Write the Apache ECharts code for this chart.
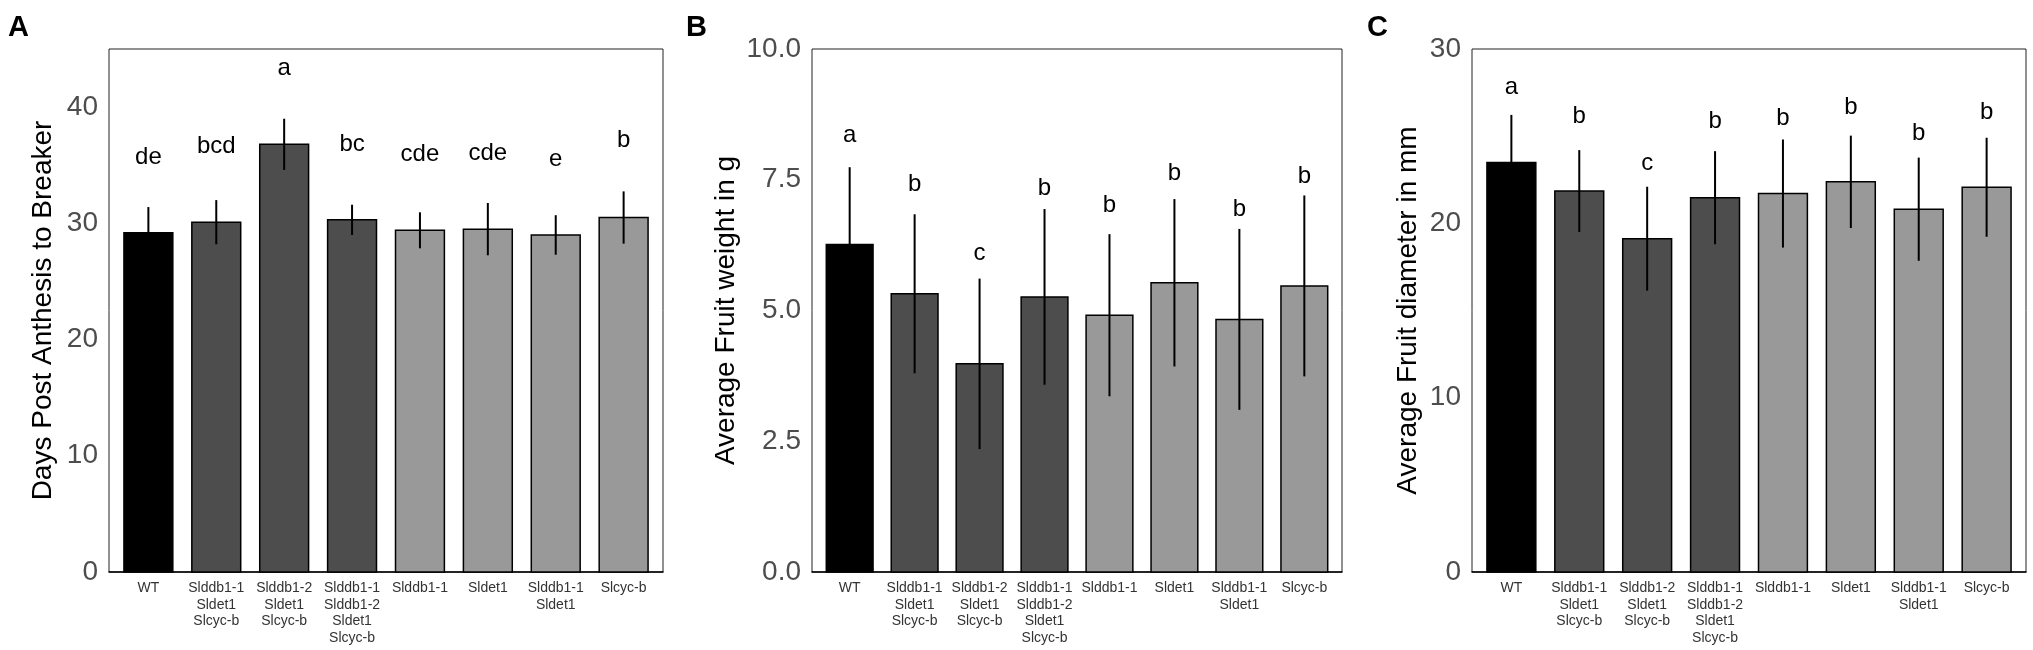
<!DOCTYPE html>
<html>
<head>
    <meta charset="utf-8">
    <title>Fruit traits</title>
    <script src="https://cdn.jsdelivr.net/npm/echarts@6.0.0/dist/echarts.min.js"></script>
    <style>
        body { margin: 0; background: #fff; }
    </style>
</head>
<body>
    <div id="main" style="width: 2033px;height:650px;"></div>
    <script type="text/javascript">
        var chartDom = document.getElementById('main');
        var myChart = echarts.init(chartDom);
        var option;

        // genotypes, same order in all three panels
        var categories = [
            'WT',
            'Slddb1-1\nSldet1\nSlcyc-b',
            'Slddb1-2\nSldet1\nSlcyc-b',
            'Slddb1-1\nSlddb1-2\nSldet1\nSlcyc-b',
            'Slddb1-1',
            'Sldet1',
            'Slddb1-1\nSldet1',
            'Slcyc-b'
        ];
        var barColors = ['#000000', '#4d4d4d', '#4d4d4d', '#4d4d4d', '#999999', '#999999', '#999999', '#999999'];

        // A: days post anthesis to breaker
        var daysMean = [29.2, 30.1, 36.8, 30.3, 29.4, 29.5, 29.0, 30.5];
        var daysErr = [2.2, 1.9, 2.2, 1.3, 1.55, 2.25, 1.7, 2.25];
        var daysLetters = ['de', 'bcd', 'a', 'bc', 'cde', 'cde', 'e', 'b'];
        var daysLetterY = [35.1, 36.0, 42.7, 36.2, 35.3, 35.4, 34.9, 36.5];

        // B: average fruit weight (g)
        var weightMean = [6.26, 5.32, 3.98, 5.26, 4.91, 5.53, 4.83, 5.47];
        var weightErr = [1.48, 1.52, 1.63, 1.68, 1.55, 1.6, 1.73, 1.73];
        var weightLetters = ['a', 'b', 'c', 'b', 'b', 'b', 'b', 'b'];
        var weightLetterY = [8.22, 7.28, 5.95, 7.21, 6.88, 7.49, 6.80, 7.43];

        // C: average fruit diameter (mm)
        var diamMean = [23.49, 21.85, 19.12, 21.47, 21.71, 22.38, 20.81, 22.07];
        var diamErr = [2.73, 2.35, 2.98, 2.67, 3.1, 2.65, 2.96, 2.84];
        var diamLetters = ['a', 'b', 'c', 'b', 'b', 'b', 'b', 'b'];
        var diamLetterY = [27.39, 25.75, 23.02, 25.42, 25.61, 26.27, 24.73, 25.99];

        var font = 'Liberation Sans';

        var panels = [
            { tag: 'A', name: 'Days Post Anthesis to Breaker', mean: daysMean, err: daysErr, letters: daysLetters, letterY: daysLetterY,
              max: 45, interval: 10, digits: 0, showMax: false, left: 109, width: 554, nameGap: 52, tagX: 8 },
            { tag: 'B', name: 'Average Fruit weight in g', mean: weightMean, err: weightErr, letters: weightLetters, letterY: weightLetterY,
              max: 10, interval: 2.5, digits: 1, showMax: true, left: 812, width: 530, nameGap: 72, tagX: 686 },
            { tag: 'C', name: 'Average Fruit diameter in mm', mean: diamMean, err: diamErr, letters: diamLetters, letterY: diamLetterY,
              max: 30, interval: 10, digits: 0, showMax: true, left: 1472, width: 554, nameGap: 50, tagX: 1367 }
        ];

        function renderBar(params, api) {
            var i = api.value(0);
            var p1 = api.coord([i - 0.36, api.value(1)]);
            var p2 = api.coord([i + 0.36, 0]);
            return {
                type: 'rect',
                shape: { x: p1[0], y: p1[1], width: p2[0] - p1[0], height: p2[1] - p1[1] },
                style: { fill: barColors[params.dataIndex], stroke: '#000', lineWidth: 1.5 }
            };
        }

        function renderErr(params, api) {
            var i = api.value(0);
            var hi = api.coord([i, api.value(1) + api.value(2)]);
            var lo = api.coord([i, api.value(1) - api.value(2)]);
            return {
                type: 'line',
                shape: { x1: hi[0], y1: hi[1], x2: lo[0], y2: lo[1] },
                style: { stroke: '#000', lineWidth: 2 }
            };
        }

        function renderLetter(params, api) {
            var pt = api.coord([api.value(0), api.value(1)]);
            return {
                type: 'text',
                x: pt[0],
                y: pt[1] + 5,
                style: {
                    text: api.value(2),
                    fill: '#000',
                    fontSize: 24,
                    fontFamily: font,
                    align: 'center',
                    verticalAlign: 'bottom'
                }
            };
        }

        var grids = [], xAxes = [], yAxes = [], series = [], graphics = [];
        var idx = [0, 1, 2, 3, 4, 5, 6, 7];

        panels.forEach(function (p, k) {
            grids.push({
                left: p.left, width: p.width, top: 49, height: 523,
                show: true, borderColor: '#222', borderWidth: 1, backgroundColor: 'transparent'
            });
            xAxes.push({
                type: 'value', gridIndex: k, min: -0.58, max: 7.58,
                splitLine: { show: false },
                axisTick: { show: false },
                axisLine: { show: true, onZero: false, lineStyle: { color: '#000', width: 1.5 } },
                axisLabel: {
                    customValues: idx,
                    formatter: function (v) { return categories[Math.round(v)]; },
                    fontFamily: font, fontSize: 14, lineHeight: 16.5, color: '#333', margin: 8
                }
            });
            yAxes.push({
                type: 'value', gridIndex: k, min: 0, max: p.max, interval: p.interval,
                name: p.name, nameLocation: 'middle', nameGap: p.nameGap,
                nameTextStyle: { fontFamily: font, fontSize: 28, color: '#000' },
                splitLine: { show: false },
                axisTick: { show: false },
                axisLine: { show: false },
                axisLabel: {
                    showMaxLabel: p.showMax,
                    formatter: function (v) { return v.toFixed(p.digits); },
                    fontFamily: font, fontSize: 28, color: '#4d4d4d', margin: 11
                }
            });
            var barData = idx.map(function (i) { return [i, p.mean[i], p.err[i]]; });
            var letterData = idx.map(function (i) { return [i, p.letterY[i], p.letters[i]]; });
            series.push({
                type: 'custom', xAxisIndex: k, yAxisIndex: k, renderItem: renderBar,
                data: barData, encode: { x: 0, y: 1 }, z: 2
            }, {
                type: 'custom', xAxisIndex: k, yAxisIndex: k, renderItem: renderErr,
                data: barData, encode: { x: 0, y: 1 }, z: 3
            }, {
                type: 'custom', xAxisIndex: k, yAxisIndex: k, renderItem: renderLetter,
                data: letterData, encode: { x: 0, y: 1 }, z: 4, clip: false
            });
            graphics.push({
                type: 'text', left: p.tagX, top: 13,
                style: { text: p.tag, fontFamily: font, fontSize: 29, fontWeight: 'bold', fill: '#000' }
            });
        });

        option = {
            backgroundColor: '#fff',
            animation: false,
            grid: grids,
            xAxis: xAxes,
            yAxis: yAxes,
            series: series,
            graphic: graphics
        };

        option && myChart.setOption(option);
    </script>
</body>
</html>
